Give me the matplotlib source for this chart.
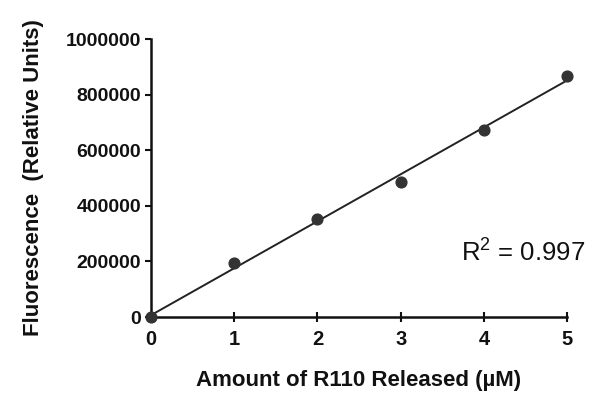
import matplotlib
matplotlib.use("Agg")
import matplotlib.pyplot as plt
import numpy as np

x_vals = [0, 1, 2, 3, 4, 5]
y_vals = [0, 194000, 352000, 486000, 673000, 868000]
x_ticks = [0, 1, 2, 3, 4, 5]
y_ticks = [0, 200000, 400000, 600000, 800000, 1000000]
r2_label = "R$^{2}$ = 0.997"

plt.rcParams['font.family'] = ['Liberation Sans', 'DejaVu Sans']
plt.rcParams['mathtext.fontset'] = 'custom'
plt.rcParams['mathtext.rm'] = 'Liberation Sans'

fig = plt.figure(figsize=(5.96, 3.94), dpi=100)
ax = fig.add_axes([0.2534, 0.1954, 0.6980, 0.7056])

slope, intercept = np.polyfit(x_vals, y_vals, 1)
xl = np.array([x_vals[0], x_vals[-1]])
ax.plot(xl, slope * xl + intercept, color='#222222', lw=1.4, zorder=2)
ax.scatter(x_vals, y_vals, s=60, color='#333333', zorder=3, clip_on=False)

ax.set_xlim(0, 5)
ax.set_ylim(0, 1000000)
ax.set_xticks(x_ticks)
ax.set_yticks(y_ticks)
ax.set_xticklabels([str(v) for v in x_ticks], fontweight='bold', fontsize=14.5)
ax.set_yticklabels([str(v) for v in y_ticks], fontweight='bold', fontsize=14)

for s in ['top', 'right']:
    ax.spines[s].set_visible(False)
for s in ['left', 'bottom']:
    ax.spines[s].set_linewidth(1.8)
    ax.spines[s].set_color('#111111')

ax.tick_params(axis='y', direction='out', length=4, width=1.5, pad=3, colors='#111111')
ax.tick_params(axis='x', direction='inout', length=7, width=1.5, pad=6, colors='#111111')

ax.set_xlabel("Amount of R110 Released (\u00b5M)", fontweight='bold', fontsize=16, labelpad=15, color='#111111')
ax.set_ylabel("Fluorescence  (Relative Units)", fontweight='bold', fontsize=16, labelpad=16, color='#111111')

ax.text(1.043, 0.235, r2_label, transform=ax.transAxes, ha='right', va='center', fontsize=18.5, color='#111111')

fig.savefig("out.png", dpi=100)
